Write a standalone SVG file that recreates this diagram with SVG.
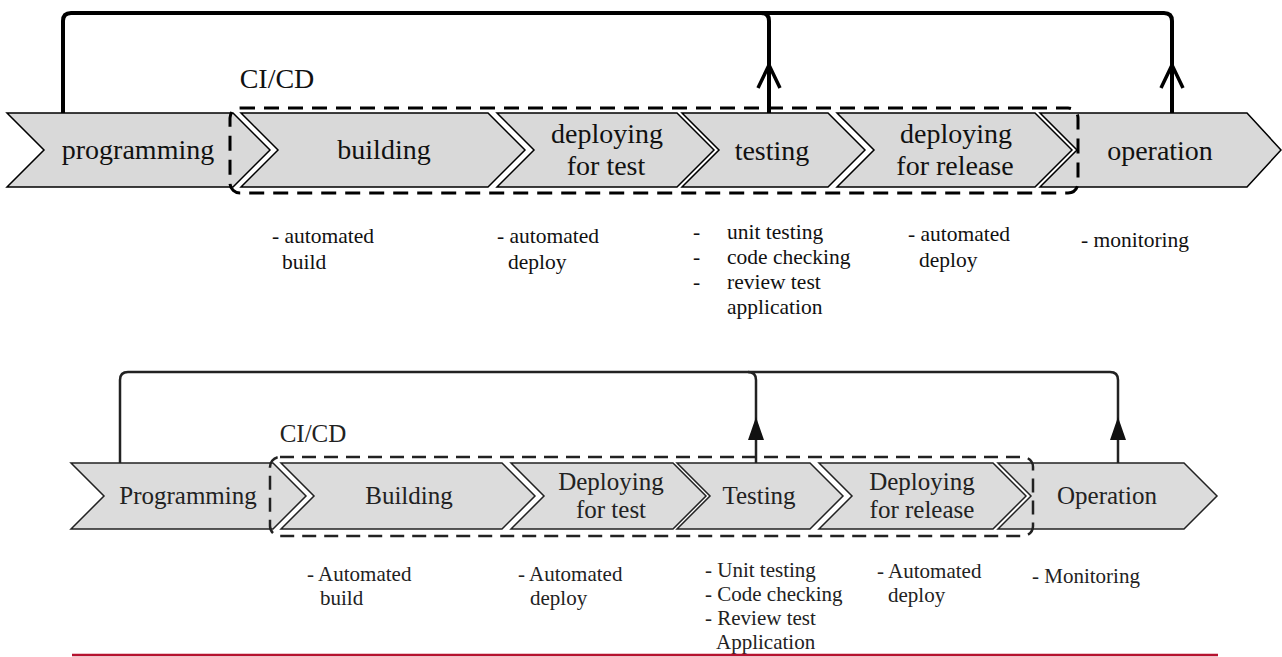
<svg xmlns="http://www.w3.org/2000/svg" width="1282" height="657" viewBox="0 0 1282 657">
<style>
.ch{fill:#d9d9d9;stroke:#000;stroke-width:1.5;stroke-linejoin:miter}
.ch2{fill:#dcdcdc;stroke:#222;stroke-width:1.5;stroke-linejoin:miter}
.lt{font-family:"Liberation Serif","DejaVu Serif",serif;font-size:28px;fill:#111;text-anchor:middle}
.lb{font-family:"Liberation Serif","DejaVu Serif",serif;font-size:25px;fill:#222;text-anchor:middle}
.nt{font-family:"Liberation Serif","DejaVu Serif",serif;font-size:21.5px;fill:#111}
.nb{font-family:"Liberation Serif","DejaVu Serif",serif;font-size:21px;fill:#222}
.box1{fill:none;stroke:#000;stroke-width:3;stroke-dasharray:15 9}
.box2{fill:none;stroke:#222;stroke-width:2.5;stroke-dasharray:14 8}
.c1{fill:none;stroke:#000;stroke-width:4}
.c2{fill:none;stroke:#222;stroke-width:2.5}
</style>
<defs>
<marker id="openArrow" viewBox="0 0 24 26" refX="12" refY="2" markerWidth="24" markerHeight="26" markerUnits="userSpaceOnUse" orient="auto-start-reverse">
<path d="M1,25 L12,2 L23,25" fill="none" stroke="#000" stroke-width="4"/>
</marker>
</defs>
<!-- ===== top diagram ===== -->
<g id="top-programming"><polygon class="ch" points="7,113 233,113 270,150 233,187 7,187 44,150"/><text class="lt" x="138" y="159">programming</text></g>
<g id="top-building"><polygon class="ch" points="241,113 488,113 525,150 488,187 241,187 278,150"/><text class="lt" x="384" y="159">building</text></g>
<g id="top-deploy-test"><polygon class="ch" points="497,113 677,113 714,150 677,187 497,187 534,150"/><text class="lt" x="607" y="143">deploying</text><text class="lt" x="606" y="175">for test</text></g>
<g id="top-testing"><polygon class="ch" points="682,113 828,113 865,150 828,187 682,187 719,150"/><text class="lt" x="772" y="160">testing</text></g>
<g id="top-deploy-release"><polygon class="ch" points="837,113 1035,113 1072,150 1035,187 837,187 874,150"/><text class="lt" x="956" y="143">deploying</text><text class="lt" x="955" y="175">for release</text></g>
<g id="top-operation"><polygon class="ch" points="1040,113 1247,113 1281,150 1247,187 1040,187 1077,150"/><text class="lt" x="1160" y="160">operation</text></g>
<g id="top-cicd"><rect class="box1" x="230" y="108" width="848" height="85" rx="10"/><text class="lt" x="277" y="88">CI/CD</text></g>
<g id="top-connectors">
<path class="c1" d="M63,113 V21 Q63,13 71,13 H1164 Q1172,13 1172,21 V113"/>
<path class="c1" d="M761,13 Q769,13 769,21 V113"/>
<path d="M758,88 L769,65 L780,88" fill="none" stroke="#000" stroke-width="3.5"/>
<path d="M1161,88 L1172,65 L1183,88" fill="none" stroke="#000" stroke-width="3.5"/>
</g>
<g id="top-notes">
<text class="nt" x="272" y="243">- automated</text><text class="nt" x="282" y="269">build</text>
<text class="nt" x="497" y="243">- automated</text><text class="nt" x="508" y="269">deploy</text>
<text class="nt" x="693" y="239">-</text><text class="nt" x="727" y="239">unit testing</text>
<text class="nt" x="693" y="264">-</text><text class="nt" x="727" y="264">code checking</text>
<text class="nt" x="693" y="289">-</text><text class="nt" x="727" y="289">review test</text>
<text class="nt" x="727" y="314">application</text>
<text class="nt" x="908" y="241">- automated</text><text class="nt" x="919" y="267">deploy</text>
<text class="nt" x="1081" y="247">- monitoring</text>
</g>
<!-- ===== bottom diagram ===== -->
<g id="bot-programming"><polygon class="ch2" points="71,463 273,463 306,496 273,529 71,529 104,496"/><text class="lb" x="188" y="504">Programming</text></g>
<g id="bot-building"><polygon class="ch2" points="281,463 502,463 535,496 502,529 281,529 314,496"/><text class="lb" x="409" y="504">Building</text></g>
<g id="bot-deploy-test"><polygon class="ch2" points="511,463 673,463 706,496 673,529 511,529 544,496"/><text class="lb" x="611" y="490">Deploying</text><text class="lb" x="611" y="518">for test</text></g>
<g id="bot-testing"><polygon class="ch2" points="677,463 810,463 843,496 810,529 677,529 710,496"/><text class="lb" x="759" y="504">Testing</text></g>
<g id="bot-deploy-release"><polygon class="ch2" points="819,463 993,463 1026,496 993,529 819,529 852,496"/><text class="lb" x="922" y="490">Deploying</text><text class="lb" x="922" y="518">for release</text></g>
<g id="bot-operation"><polygon class="ch2" points="998,463 1184,463 1217,496 1184,529 998,529 1031,496"/><text class="lb" x="1107" y="504">Operation</text></g>
<g id="bot-cicd"><rect class="box2" x="270" y="457" width="763" height="79" rx="10"/><text class="lb" x="313" y="442">CI/CD</text></g>
<g id="bot-connectors">
<path class="c2" d="M120,463 V380 Q120,372 128,372 H1110 Q1118,372 1118,380 V463"/>
<path class="c2" d="M748,372 Q756,372 756,380 V463"/>
<polygon points="748,440 756,417 764,440" fill="#111"/>
<polygon points="1110,440 1118,417 1126,440" fill="#111"/>
</g>
<g id="bot-notes">
<text class="nb" x="307" y="581">- Automated</text><text class="nb" x="320" y="605">build</text>
<text class="nb" x="518" y="581">- Automated</text><text class="nb" x="530" y="605">deploy</text>
<text class="nb" x="705" y="577">- Unit testing</text>
<text class="nb" x="705" y="601">- Code checking</text>
<text class="nb" x="705" y="625">- Review test</text>
<text class="nb" x="716" y="649">Application</text>
<text class="nb" x="877" y="578">- Automated</text><text class="nb" x="888" y="602">deploy</text>
<text class="nb" x="1032" y="583">- Monitoring</text>
</g>
<line id="rule" x1="72" y1="655" x2="1218" y2="655" stroke="#b5122f" stroke-width="2.5"/>
</svg>
